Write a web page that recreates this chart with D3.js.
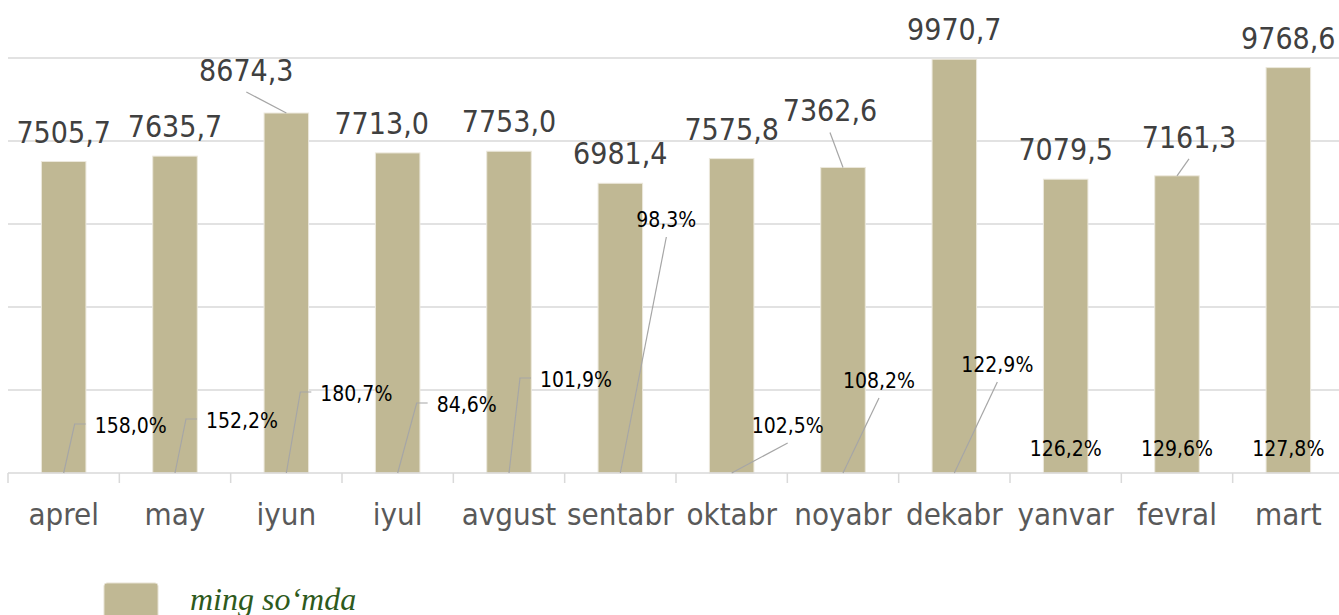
<!DOCTYPE html>
<html>
<head>
<meta charset="utf-8">
<script src="https://cdn.jsdelivr.net/npm/d3@7"></script>
<style>
  body { margin: 0; background: #fff; }
  svg { display: block; }
</style>
</head>
<body>
<div id="chart"></div>
<script>
// data
const months = ['aprel', 'may', 'iyun', 'iyul', 'avgust', 'sentabr', 'oktabr', 'noyabr', 'dekabr', 'yanvar', 'fevral', 'mart']
const values = [7505.7, 7635.7, 8674.3, 7713.0, 7753.0, 6981.4, 7575.8, 7362.6, 9970.7, 7079.5, 7161.3, 9768.6]
const growth = [158.0, 152.2, 180.7, 84.6, 101.9, 98.3, 102.5, 108.2, 122.9, 126.2, 129.6, 127.8]
const yTicks = [0, 2000, 4000, 6000, 8000, 10000]
const seriesName = 'ming so\u2018mda'

// label nudges (dragged labels in the original), px
const valueNudge = [[0, 0], [0, 0], [-40, -13], [-16, 0], [0, 0], [0, 0], [0, 0], [-13, -27], [0, 0], [0, 0], [12, -9], [0, 0]]
// [dx, dy, leader type]
const pctNudge = [
  [67, -23, 'elbow'], [67, -28, 'elbow'], [70, -55, 'elbow'], [69, -44, 'elbow'],
  [67, -69, 'elbow'], [46, -229, 'straight'], [56, -23, 'straight'], [36, -68, 'straight'],
  [43, -84, 'straight'], [0, 0, null], [0, 0, null], [0, 0, null]
]

const width = 1339
const height = 615
const margin = { top: 58, left: 8, right: -5, bottom: 142 }

const svg = d3
  .select('#chart')
  .append('svg')
  .attr('width', width)
  .attr('height', height)

const x = d3
  .scaleBand()
  .domain(months)
  .range([margin.left, width - margin.right])
  .paddingInner(0.6)
  .paddingOuter(0.3)

const y = d3
  .scaleLinear()
  .domain([0, 10000])
  .range([height - margin.bottom, margin.top])

const fmt = v => v.toFixed(1).replace('.', ',')
const cx = m => x(m) + x.bandwidth() / 2
const base = y(0)

// gridlines
svg
  .append('g')
  .selectAll('line')
  .data(yTicks.slice(1))
  .enter()
  .append('line')
  .attr('x1', margin.left)
  .attr('x2', width)
  .attr('y1', d => y(d))
  .attr('y2', d => y(d))
  .attr('stroke', '#d9d9d9')
  .attr('stroke-width', 1.5)

// bars
svg
  .append('g')
  .selectAll('rect')
  .data(values)
  .enter()
  .append('rect')
  .attr('x', (d, i) => x(months[i]))
  .attr('y', d => y(d))
  .attr('width', x.bandwidth())
  .attr('height', d => base - y(d))
  .attr('fill', '#c0b894')
  .attr('stroke', '#ece8dc')
  .attr('stroke-width', 1)

// x axis
svg
  .append('line')
  .attr('x1', margin.left)
  .attr('x2', width)
  .attr('y1', base)
  .attr('y2', base)
  .attr('stroke', '#d9d9d9')
  .attr('stroke-width', 1.5)
const step = x.step()
const edges = d3.range(months.length + 1).map(i => margin.left + i * step)
svg
  .append('g')
  .selectAll('line')
  .data(edges)
  .enter()
  .append('line')
  .attr('x1', d => d)
  .attr('x2', d => d)
  .attr('y1', base)
  .attr('y2', base + 10)
  .attr('stroke', '#d9d9d9')
  .attr('stroke-width', 1.5)

svg
  .append('g')
  .selectAll('text')
  .data(months)
  .enter()
  .append('text')
  .attr('x', d => cx(d))
  .attr('y', base + 52)
  .attr('text-anchor', 'middle')
  .attr('font-family', 'DejaVu Sans Condensed')
  .style('font-size', '31px')
  .attr('fill', '#595959')
  .text(d => d)

// value labels with leaders
const valueLabels = svg.append('g')
values.forEach((v, i) => {
  const m = months[i]
  const [dx, dy] = valueNudge[i]
  const lx = cx(m) + dx
  const ly = y(v) - 19 + dy
  if (Math.abs(dy) > 5) {
    valueLabels
      .append('line')
      .attr('x1', lx)
      .attr('y1', ly + 11)
      .attr('x2', cx(m))
      .attr('y2', y(v))
      .attr('stroke', '#a6a6a6')
      .attr('stroke-width', 1.2)
  }
  valueLabels
    .append('text')
    .attr('x', lx)
    .attr('y', ly)
    .attr('text-anchor', 'middle')
    .attr('font-family', 'DejaVu Sans Condensed')
    .style('font-size', '30px')
    .attr('fill', '#404040')
    .text(fmt(v))
})

// growth labels, anchored at the baseline
const pctLabels = svg.append('g')
growth.forEach((g, i) => {
  const m = months[i]
  const [dx, dy, kind] = pctNudge[i]
  const px = cx(m)
  const tx = px + dx
  const ty = base - 17 + dy
  const t = pctLabels
    .append('text')
    .attr('x', tx)
    .attr('y', ty)
    .attr('text-anchor', 'middle')
    .attr('font-family', 'DejaVu Sans Condensed')
    .style('font-size', '21px')
    .attr('fill', '#000')
    .text(fmt(g) + '%')
  const w = t.node().getComputedTextLength()
  let pts = null
  if (kind === 'elbow') {
    const left = tx - w / 2
    pts = [[px, base], [left - 20, ty - 9], [left - 9, ty - 9]]
  } else if (kind === 'straight') {
    pts = [[px, base], [tx, ty + 10]]
  }
  if (pts) {
    pctLabels
      .insert('path', 'text')
      .attr('d', d3.line()(pts))
      .attr('fill', 'none')
      .attr('stroke', '#a6a6a6')
      .attr('stroke-width', 1.2)
  }
})

// legend
const legend = svg.append('g').attr('transform', 'translate(104,583)')
legend
  .append('rect')
  .attr('width', 54)
  .attr('height', 40)
  .attr('rx', 3)
  .attr('fill', '#c0b894')
  .attr('stroke', '#e6e1d2')
legend
  .append('text')
  .attr('x', 86)
  .attr('y', 27)
  .attr('font-family', 'Liberation Serif')
  .attr('font-style', 'italic')
  .style('font-size', '32px')
  .attr('fill', '#2e5a1c')
  .text(seriesName)
</script>
</body>
</html>
